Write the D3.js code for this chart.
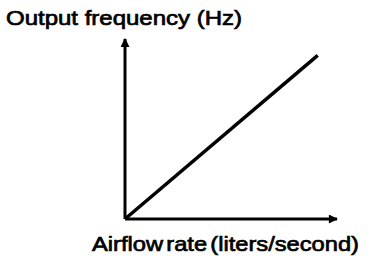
<!DOCTYPE html>
<html>
<head>
<meta charset="utf-8">
<script src="https://cdn.jsdelivr.net/npm/d3@7"></script>
<style>
body { margin:0; background:#fff; }
text { font-family: "Liberation Sans", Arial, sans-serif; fill:#000; }
</style>
</head>
<body>
<svg id="chart" width="384" height="266"></svg>
<script>
// schematic: output frequency rises linearly with airflow
var airflow = [0, 10];
var frequency = [0, 10];
var axisMax = 11;
var yTitle = "Output frequency (Hz)";
var xTitle = "Airflow rate (liters/second)";

var svg = d3.select('#chart');
var x = d3.scaleLinear().domain([0, axisMax]).range([125, 337]);
var y = d3.scaleLinear().domain([0, axisMax]).range([219, 39]);

svg.append('defs').append('marker')
    .attr('id', 'arrow')
    .attr('viewBox', '0 0 10 10')
    .attr('refX', 9).attr('refY', 5)
    .attr('markerWidth', 12).attr('markerHeight', 9)
    .attr('markerUnits', 'userSpaceOnUse')
    .attr('orient', 'auto')
    .append('path').attr('d', 'M0,0L10,5L0,10Z').attr('fill', '#000');

// axes
svg.append('line')
    .attr('x1', x(0)).attr('y1', y(0)).attr('x2', x(0)).attr('y2', y(axisMax))
    .attr('stroke', '#000').attr('stroke-width', 3)
    .attr('marker-end', 'url(#arrow)');
svg.append('line')
    .attr('x1', x(0)).attr('y1', y(0)).attr('x2', x(axisMax)).attr('y2', y(0))
    .attr('stroke', '#000').attr('stroke-width', 3)
    .attr('marker-end', 'url(#arrow)');

var pts = airflow.map(function(d, i){ return [d, frequency[i]]; });
svg.append('path')
    .datum(pts)
    .attr('fill', 'none')
    .attr('stroke', '#000')
    .attr('stroke-width', 3.5)
    .attr('d', d3.line().x(function(d){ return x(d[0]); }).y(function(d){ return y(d[1]); }));

svg.append('text')
    .attr('x', 6).attr('y', 25)
    .attr('textLength', 236).attr('lengthAdjust', 'spacingAndGlyphs')
    .attr('stroke', '#000').attr('stroke-width', 0.7)
    .style('font-size', '21px')
    .text(yTitle);
svg.append('text')
    .attr('x', 92).attr('y', 251)
    .attr('textLength', 267).attr('lengthAdjust', 'spacingAndGlyphs')
    .attr('stroke', '#000').attr('stroke-width', 0.7)
    .style('font-size', '21px')
    .style('word-spacing', '-3px')
    .text(xTitle);
</script>
</body>
</html>
